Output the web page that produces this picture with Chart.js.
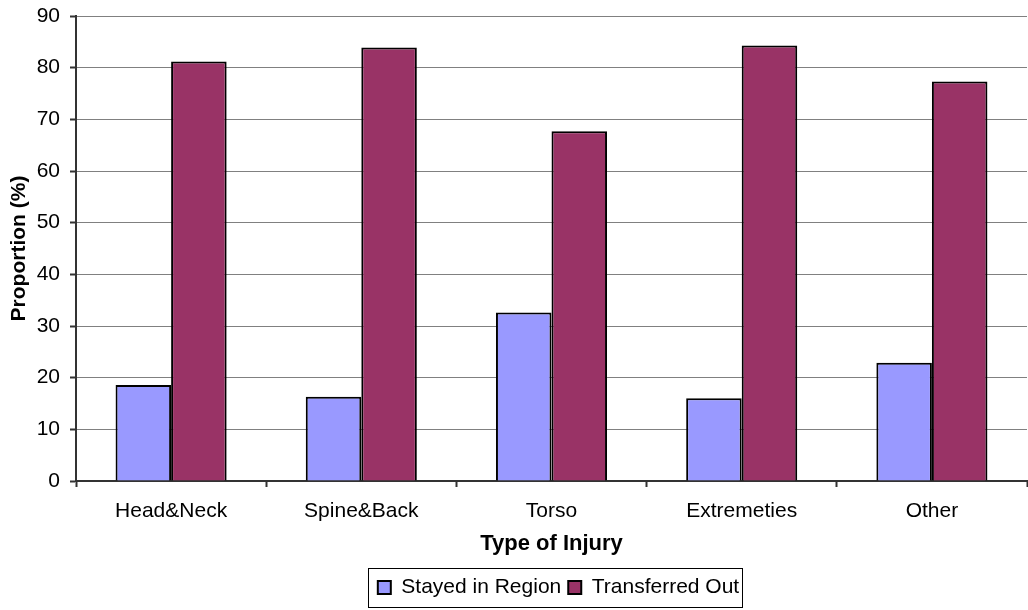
<!DOCTYPE html>
<html>
<head>
<meta charset="utf-8">
<title>Type of Injury</title>
<script src="https://cdn.jsdelivr.net/npm/chart.js@4.4.1/dist/chart.umd.min.js"></script>
<style>
  body { margin: 0; background: #fff; }
  canvas { display: block; }
</style>
</head>
<body>
<canvas id="myChart" width="1028" height="610"></canvas>
<script>
// injury groups along the x axis
const categories = ['Head&Neck', 'Spine&Back', 'Torso', 'Extremeties', 'Other'];
// proportion of patients, %
const stayedInRegion = [18.6, 16.3, 32.6, 16.0, 22.9];
const transferredOut = [81.2, 83.9, 67.7, 84.3, 77.3];
// y axis range
const yMin = 0;
const yMax = 90;
const yStep = 10;

const FONT = 'Arial, "Liberation Sans", sans-serif';

// frame round the legend, and nudge the legend so it sits under the plot
const legendFrame = {
  id: 'legendFrame',
  afterLayout(chart) {
    const lg = chart.legend;
    lg.left += 45;
    lg.right += 45;
  },
  afterDraw(chart) {
    const boxes = chart.legend.legendHitBoxes;
    if (!boxes || !boxes.length) return;
    const first = boxes[0];
    const last = boxes[boxes.length - 1];
    const x0 = Math.round(first.left - 10) + 0.5;
    const x1 = Math.round(last.left + last.width + 3) + 0.5;
    const y0 = Math.round(first.top + first.height / 2 - 20) + 0.5;
    const y1 = Math.round(first.top + first.height / 2 + 19) + 0.5;
    const ctx = chart.ctx;
    ctx.save();
    ctx.strokeStyle = '#000';
    ctx.lineWidth = 1;
    ctx.strokeRect(x0, y0, x1 - x0, y1 - y0);
    ctx.restore();
  }
};

const ctx = document.getElementById('myChart');
new Chart(ctx, {
  type: 'bar',
  data: {
    labels: categories,
    datasets: [{
      label: 'Stayed in Region',
      data: stayedInRegion,
      backgroundColor: '#9999ff',
      borderColor: '#000',
      borderWidth: 2
    }, {
      label: 'Transferred Out',
      data: transferredOut,
      backgroundColor: '#993366',
      borderColor: '#000',
      borderWidth: 2
    }]
  },
  options: {
    responsive: false,
    animation: false,
    categoryPercentage: 0.584,
    barPercentage: 1,
    layout: {
      padding: { top: 16, right: 1, left: 0, bottom: 2 }
    },
    plugins: {
      tooltip: { enabled: false },
      legend: {
        position: 'bottom',
        labels: {
          color: '#000',
          font: { family: FONT, size: 21 },
          boxWidth: 13,
          boxHeight: 13,
          padding: 7
        }
      }
    },
    scales: {
      x: {
        afterFit(scale) { scale.height = 89; },
        grid: {
          display: true,
          drawOnChartArea: false,
          offset: true,
          tickLength: 6,
          tickColor: '#333',
          tickWidth: 2
        },
        border: { color: '#333', width: 2 },
        ticks: {
          color: '#000',
          font: { family: FONT, size: 21 },
          padding: 12,
          maxRotation: 0
        },
        title: {
          display: true,
          text: 'Type of Injury',
          color: '#000',
          font: { family: FONT, size: 22, weight: 'bold' },
          padding: { top: 4, bottom: 13 }
        }
      },
      y: {
        min: yMin,
        max: yMax,
        afterFit(scale) {
          scale.width = 76;
          scale.paddingTop = 0;
          scale.paddingBottom = 0;
        },
        grid: {
          color: '#808080',
          lineWidth: 1,
          tickLength: 6,
          tickColor: '#333',
          tickWidth: 2
        },
        border: { color: '#333', width: 2 },
        ticks: {
          stepSize: yStep,
          color: '#000',
          font: { family: FONT, size: 21 },
          padding: 10
        },
        title: {
          display: true,
          text: 'Proportion (%)',
          color: '#000',
          font: { family: FONT, size: 21, weight: 'bold' },
          padding: { top: 7, bottom: 4 }
        }
      }
    }
  },
  plugins: [legendFrame]
});
</script>
</body>
</html>
